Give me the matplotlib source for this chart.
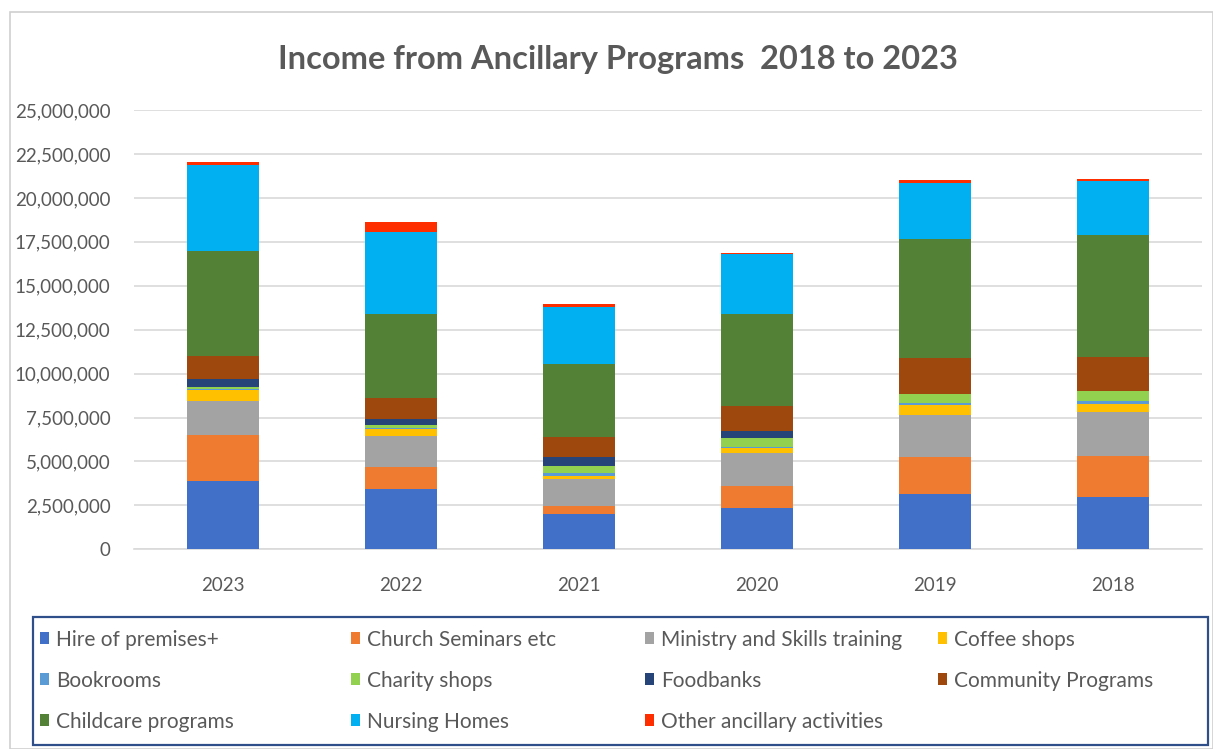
import matplotlib.pyplot as plt
from matplotlib.patches import Rectangle
from matplotlib.ticker import FuncFormatter
import numpy as np

plt.rcParams['font.family'] = ['Lato', 'DejaVu Sans']

# years as shown, left to right
years = ['2023', '2022', '2021', '2020', '2019', '2018']

# values (in units)
hire = [3900000, 3420000, 2010000, 2340000, 3140000, 3000000]
church = [2620000, 1250000, 480000, 1290000, 2140000, 2320000]
ministry = [1940000, 1800000, 1500000, 1850000, 2340000, 2500000]
coffee = [590000, 380000, 190000, 280000, 570000, 470000]
bookrooms = [50000, 50000, 160000, 90000, 140000, 150000]
charity = [160000, 180000, 410000, 500000, 510000, 550000]
foodbanks = [440000, 330000, 480000, 400000, 0, 0]
community = [1330000, 1230000, 1140000, 1420000, 2060000, 1940000]
childcare = [5950000, 4770000, 4200000, 5200000, 6740000, 6940000]
nursing = [4890000, 4680000, 3230000, 3420000, 3200000, 3070000]
other = [150000, 550000, 190000, 60000, 170000, 110000]

names = ['Hire of premises+', 'Church Seminars etc', 'Ministry and Skills training', 'Coffee shops',
         'Bookrooms', 'Charity shops', 'Foodbanks', 'Community Programs',
         'Childcare programs', 'Nursing Homes', 'Other ancillary activities']
series = [hire, church, ministry, coffee, bookrooms, charity, foodbanks, community, childcare, nursing, other]
colors = ['#4170C8', '#EE7B30', '#A3A3A3', '#FFC000', '#5B9BD5', '#92D050',
          '#264478', '#9E480E', '#538135', '#00B0F0', '#FF2E00']

fig = plt.figure(figsize=(12.13, 7.49), dpi=100)
ax = fig.add_axes([0.1105, 0.2666, 0.8805, 0.5864])

x = np.arange(len(years))
bottom = np.zeros(len(years))
for vals, col, nm in zip(series, colors, names):
    ax.bar(x, vals, 0.40, bottom=bottom, color=col, label=nm, zorder=3)
    bottom = bottom + np.array(vals)

ax.set_xlim(-0.5, len(years) - 0.5)
ax.set_ylim(0, 25000000)
ax.set_yticks(np.arange(0, 25000001, 2500000))
ax.yaxis.set_major_formatter(FuncFormatter(lambda v, p: f'{int(v):,}'))
ax.set_xticks(x)
ax.set_xticklabels(years)
ax.grid(axis='y', color='#D9D9D9', linewidth=1.2, zorder=0)
ax.tick_params(axis='both', length=0, labelsize=13.5, colors='#595959')
ax.tick_params(axis='y', pad=17)
ax.tick_params(axis='x', pad=20)
for s in ['top', 'right', 'left']:
    ax.spines[s].set_visible(False)
ax.spines['bottom'].set_color('#D9D9D9')
ax.spines['bottom'].set_linewidth(1.2)

fig.text(0.5095, 0.921, 'Income from Ancillary Programs  2018 to 2023', ha='center', va='center',
         fontsize=23.5, fontweight='bold', color='#595959')

# outer frame
W, H = 1213, 749
fig.patches.append(Rectangle((10 / W, 0), 1 - 10 / W, 1 - 12 / H, transform=fig.transFigure,
                             fill=False, edgecolor='#D0D0D0', linewidth=1.2))

# legend box
fig.patches.append(Rectangle((33 / W, 4 / H), 1175 / W, 128 / H, transform=fig.transFigure,
                             fill=False, edgecolor='#2F4F8A', linewidth=1.6))
col_x = [40, 351, 645, 938]
row_y = [640, 681, 722]
for i, (nm, col) in enumerate(zip(names, colors)):
    r, c = divmod(i, 4)
    px, py = col_x[c], row_y[r]
    fig.patches.append(Rectangle((px / W, 1 - (py + 4) / H), 9 / W, 12 / H,
                                 transform=fig.transFigure, facecolor=col, edgecolor='none'))
    fig.text((px + 16) / W, 1 - py / H, nm, ha='left', va='center', fontsize=15, color='#595959')

fig.savefig('out.png', dpi=100)
